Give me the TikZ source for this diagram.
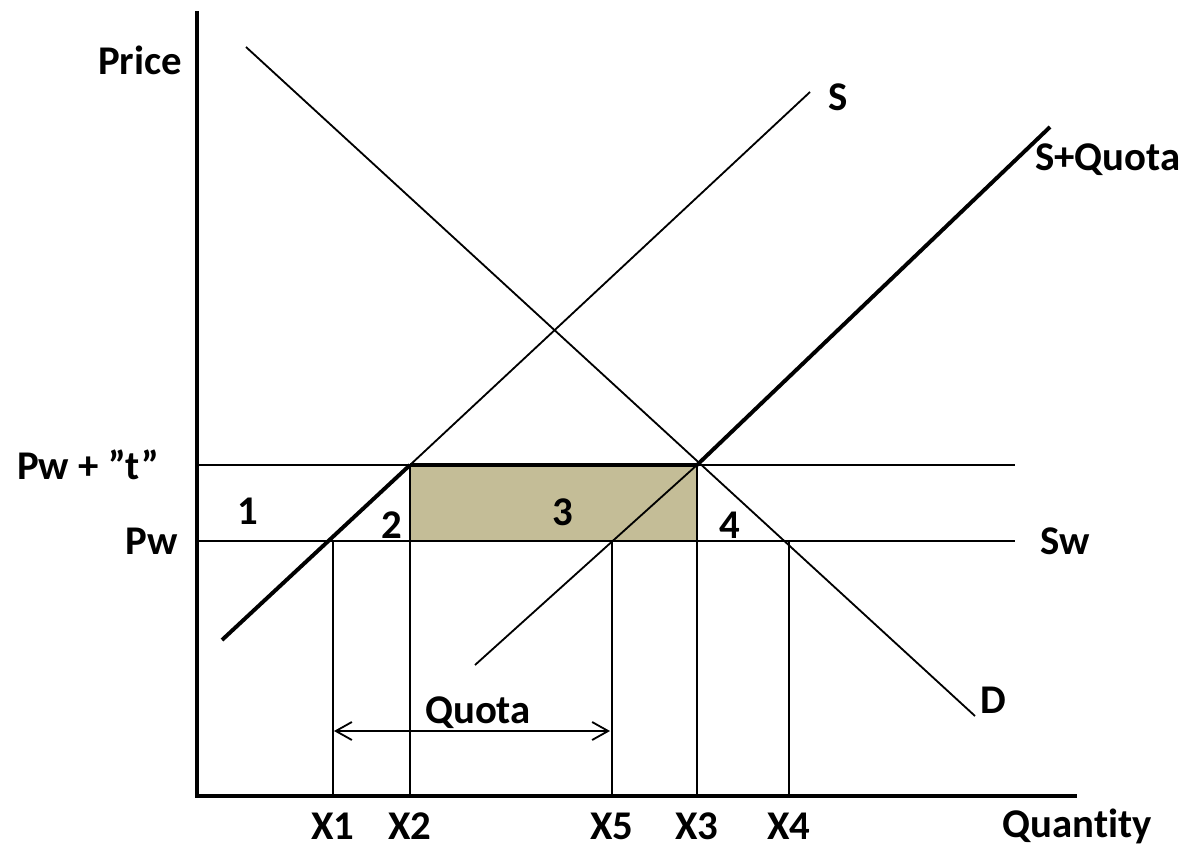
\documentclass[tikz,border=0pt]{standalone}
\usepackage{fontspec}
\setmainfont{Carlito}[Ligatures=NoCommon]
\usepackage{xcolor}
\usetikzlibrary{arrows.meta,positioning}
\definecolor{quotafill}{RGB}{196,189,151}

\begin{document}
\begin{tikzpicture}[
  x=0.025cm, y=-0.025cm,
  ln/.style={line width=1.3pt},
  boldln/.style={line width=2.8pt},
  axis/.style={line width=2.8pt},
  lbl/.style={font=\bfseries\fontsize{29}{32}\selectfont, inner sep=0pt},
  quotaarr/.style={ln, {Straight Barb[length=4mm,width=4.5mm]}-{Straight Barb[length=4mm,width=4.5mm]}}
]
\useasboundingbox (0,0) rectangle (1196,847);

% key points
\coordinate (origin) at (197,796);
\coordinate (ytop) at (197,11);
\coordinate (xend) at (1077,796);
\coordinate (pwtL) at (197,465);
\coordinate (pwtR) at (1015,465);
\coordinate (pwL) at (197,541);
\coordinate (pwR) at (1015,541);
\coordinate (x1) at (333,541);
\coordinate (x2) at (410,465);
\coordinate (x5) at (612,541);
\coordinate (x3) at (697,465);
\coordinate (x4) at (789,541);
\coordinate (sbot) at (222,640);
\coordinate (stop) at (810,92);
\coordinate (sqbot) at (475,665);
\coordinate (sqtop) at (1050,127);
\coordinate (dtop) at (246,47);
\coordinate (dbot) at (975,716);
\coordinate (qL) at (334,731);
\coordinate (qR) at (610,731);

% shaded area
\fill[quotafill] (x2) rectangle (x5 -| x3);

% price lines
\draw[ln] (pwtL) -- (pwtR);
\draw[ln] (pwL) -- (pwR);

% quantity drops
\draw[ln] (x1) -- (x1 |- origin);
\draw[ln] (x2) -- (x2 |- origin);
\draw[ln] (x5) -- (x5 |- origin);
\draw[ln] (x3) -- (x3 |- origin);
\draw[ln] (x4) -- (x4 |- origin);

% curves
\draw[ln] (x2) -- (stop);
\draw[boldln] (sbot) -- (x2);
\draw[ln] (sqbot) -- (x3);
\draw[boldln] (x3) -- (sqtop);
\draw[boldln] (x2) -- (x3);
\draw[ln] (dtop) -- (dbot);

% axes
\draw[axis] (ytop) -- (origin) -- (xend);

% quota arrow
\draw[quotaarr] (qL) -- (qR);

% labels
\node[lbl] (price) at (140,60) {Price};
\node[lbl] (slbl) at (838,97) {S};
\node[lbl] (sqlbl) at (1108,160) {S+Quota};
\node[lbl] (pwt) at (88,465) {Pw + ”t”};
\node[lbl] (pw) at (152,541) {Pw};
\node[lbl] (sw) at (1065,541) {Sw};
\node[lbl] (a1) at (248,511) {1};
\node[lbl] (a2) at (392,525) {2};
\node[lbl] (a3) at (563,512) {3};
\node[lbl] (a4) at (730,525) {4};
\node[lbl] (dlbl) at (993,700) {D};
\node[lbl] (quota) at (478,713) {Quota};
\node[lbl] (lx1) at (333,826) {X1};
\node[lbl] (lx2) at (410,826) {X2};
\node[lbl] (lx5) at (612,826) {X5};
\node[lbl] (lx3) at (697,826) {X3};
\node[lbl] (lx4) at (789,826) {X4};
\node[lbl] (qty) at (1077,826) {Quantity};
\end{tikzpicture}
\end{document}
